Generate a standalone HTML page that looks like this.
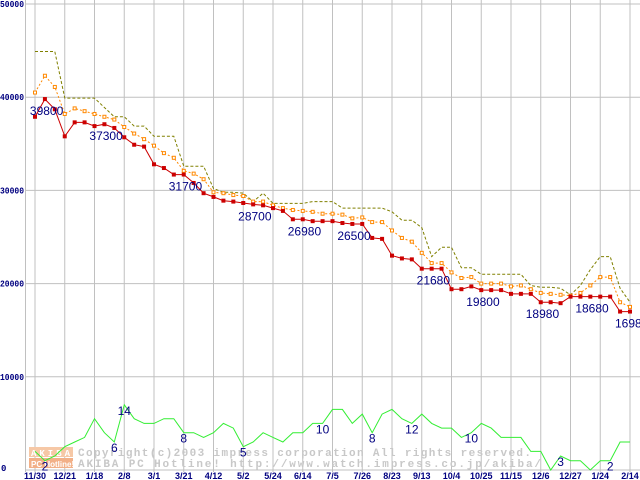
<!DOCTYPE html>
<html><head><meta charset="utf-8"><style>
body{margin:0;background:#fff;}
svg{display:block;font-family:"Liberation Sans",sans-serif;}
</style></head><body>
<svg id="chart" width="640" height="480" viewBox="0 0 640 480" xmlns="http://www.w3.org/2000/svg">
<g id="grid"></g>
<g id="wm">
 <rect x="29" y="447" width="44" height="10" fill="#f6c8a6"/>
 <rect x="29" y="458" width="44" height="10" fill="#f2b088"/>
 <text x="31" y="456" font-size="9" font-weight="bold" fill="#fff" letter-spacing="3" font-family="Liberation Mono, monospace">AKIBA</text>
 <text x="31" y="467" font-size="8" font-weight="bold" fill="#fff" font-family="Liberation Sans, sans-serif">PC Hotline!</text>
 <text x="78" y="456" font-size="11" font-weight="bold" fill="#c8c8c8" textLength="453" lengthAdjust="spacing" font-family="Liberation Mono, monospace">Copyright(c)2003 impress corporation All rights reserved.</text>
 <text x="78" y="467" font-size="11" font-weight="bold" fill="#c8c8c8" textLength="463" lengthAdjust="spacing" font-family="Liberation Mono, monospace">AKIBA PC Hotline! http://www.watch.impress.co.jp/akiba/</text>
</g>
<g id="series"></g>
<g id="labels"></g>
</svg>
<script>
const xLabels=["11/30","12/21","1/18","2/8","3/1","3/21","4/12","5/2","5/24","6/14","7/5","7/26","8/23","9/13","10/4","10/25","11/15","12/6","12/27","1/24","2/14"];
const yTicks=[0,10000,20000,30000,40000,50000];
const minPrice=[37900,39800,38700,35800,37300,37300,36900,37100,36700,35700,34900,34700,32800,32400,31700,31700,30800,29700,29300,28900,28800,28650,28500,28400,28100,27800,26900,26900,26700,26700,26700,26500,26400,26400,24900,24800,23000,22700,22600,21600,21600,21600,19400,19400,19700,19300,19300,19300,18900,18900,18900,18000,18000,17900,18600,18600,18600,18600,18600,17000,17000];
const avgPrice=[40500,42300,41100,38200,38800,38500,38200,37900,37600,36800,36100,35500,34800,34000,33500,32100,31800,31200,29800,29700,29500,29400,28800,28800,28400,28100,27900,27800,27700,27500,27500,27400,27000,27100,26600,26600,25700,24900,24500,23300,22200,22200,21200,20600,20700,20000,20000,20000,19700,19800,19400,19000,18900,18800,18700,19000,19800,20700,20700,18000,17500];
const maxPrice=[44900,44900,44900,39900,39900,39900,39900,38900,37900,37900,36900,36900,35800,35800,35800,32600,32600,32600,30200,29800,29800,29700,28800,29700,28600,28600,28600,28600,28800,28800,28800,28100,28100,28100,28100,28100,27700,26800,26800,26000,22900,23900,23900,21700,21700,21000,21000,21000,21000,21000,19800,19600,19600,19500,18800,19800,21500,22900,22900,19500,18000];
const shopCount=[4,2,3,5,6,7,11,8,6,14,11,10,10,11,11,8,8,7,8,10,9,5,6,8,7,6,8,8,10,10,13,13,10,12,8,12,13,11,10,12,10,9,9,7,8,10,9,7,7,7,4,4,0,3,2,2,0,2,2,6,6];
const priceLabels=[[1,39800],[7,37300],[15,31700],[22,28700],[27,26980],[32,26500],[40,21680],[45,19800],[51,18980],[56,18680],[60,16980]];
const countLabels=[[1,2],[8,6],[9,14],[15,8],[21,5],[29,10],[34,8],[38,12],[44,10],[53,3],[58,2]];
const countScale=500;
const NS="http://www.w3.org/2000/svg";
const X0=35,XSTEP=(630-35)/20/3;
function xPos(i){return X0+i*XSTEP;}
function yPos(v){return 470-v*466/50000;}
function mk(tag,attrs,parent){const e=document.createElementNS(NS,tag);for(const k in attrs)e.setAttribute(k,attrs[k]);parent.appendChild(e);return e;}
const grid=document.getElementById('grid'),ser=document.getElementById('series'),lab=document.getElementById('labels');
yTicks.forEach(v=>{
 const l=mk('line',{x1:25,x2:640,y1:yPos(v),y2:yPos(v),stroke:'#c0c0c0','stroke-width':1},grid);
 
 
 const attrs={x:v===0?1:0,y:yPos(v)+(v===0?1:3),'font-size':9,'font-weight':'bold',fill:'#000080','font-family':'Liberation Mono, monospace'};
 if(v!==0){attrs.textLength=24;attrs.lengthAdjust='spacingAndGlyphs';}
 const t=mk('text',attrs,grid);
 t.textContent=v===0?'0':String(v);
 
 
});
mk('line',{x1:25.5,x2:25.5,y1:0,y2:472,stroke:'#c0c0c0'},grid);
xLabels.forEach((s,k)=>{
 const x=xPos(k*3);
 const l=mk('line',{x1:x,x2:x,y1:0,y2:472,stroke:'#c0c0c0','stroke-width':1},grid);
 
 
 const t=mk('text',{x:x,y:479,'text-anchor':'middle','font-size':9,'font-weight':'bold',fill:'#000080','font-family':'Liberation Sans, sans-serif'},grid);
 t.textContent=s;
 
 
});
function pts(arr,sc){return arr.map((v,i)=>xPos(i).toFixed(1)+','+yPos(v*sc).toFixed(1)).join(' ');}
const g1=mk('polyline',{points:pts(shopCount,countScale),fill:'none',stroke:'#33ee33','stroke-width':1},ser);


const p3=mk('polyline',{points:pts(maxPrice,1),fill:'none',stroke:'#808000','stroke-width':1,'stroke-dasharray':'3,2'},ser);


const p2=mk('polyline',{points:pts(avgPrice,1),fill:'none',stroke:'#ff8800','stroke-width':1,'stroke-dasharray':'2,2'},ser);


avgPrice.forEach((v,i)=>{
 const r=mk('rect',{x:xPos(i)-1.5,y:yPos(v)-1.5,width:3,height:3,fill:'#fff',stroke:'#ff8800','stroke-width':1},ser);
 
 
});
const p1=mk('polyline',{points:pts(minPrice,1),fill:'none',stroke:'#cc0000','stroke-width':1},ser);


minPrice.forEach((v,i)=>{
 const r=mk('rect',{x:xPos(i)-2,y:yPos(v)-2,width:4,height:4,fill:'#cc0000'},ser);
 
 
});
priceLabels.forEach(([i,v])=>{
 const t=mk('text',{x:xPos(i)-15,y:yPos(minPrice[i])+16,'font-size':12,fill:'#000080'},lab);
 t.textContent=v;
 
 
});
countLabels.forEach(([i,v])=>{
 const t=mk('text',{x:xPos(i),y:yPos(shopCount[i]*countScale)+10,'text-anchor':'middle','font-size':12,fill:'#000080'},lab);
 t.textContent=v;
 
 
});
</script>
</body></html>
